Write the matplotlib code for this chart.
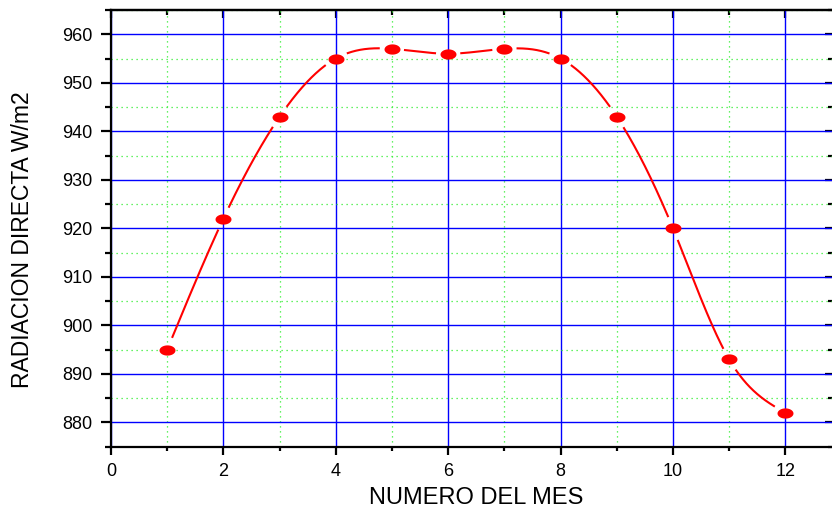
import numpy as np
import matplotlib.pyplot as plt
from matplotlib.path import Path
from matplotlib.ticker import MultipleLocator

plt.rcParams['font.family'] = ['Liberation Sans', 'DejaVu Sans']

# radiacion directa por mes
meses = [1, 2, 3, 4, 5, 6, 7, 8, 9, 10, 11, 12]
radiacion = [895, 922, 943, 955, 957, 956, 957, 955, 943, 920, 893, 882]

XMAX = 12.85
YMIN, YMAX = 875, 965


def spline_natural(x, y, xs):
    x = np.asarray(x, float)
    y = np.asarray(y, float)
    n = len(x)
    h = np.diff(x)
    A = np.zeros((n, n))
    b = np.zeros(n)
    A[0, 0] = A[-1, -1] = 1
    for i in range(1, n - 1):
        A[i, i - 1] = h[i - 1]
        A[i, i] = 2 * (h[i - 1] + h[i])
        A[i, i + 1] = h[i]
        b[i] = 6 * ((y[i + 1] - y[i]) / h[i] - (y[i] - y[i - 1]) / h[i - 1])
    M = np.linalg.solve(A, b)
    k = np.clip(np.searchsorted(x, xs) - 1, 0, n - 2)
    t0 = x[k + 1] - xs
    t1 = xs - x[k]
    hk = h[k]
    return (M[k] * t0**3 / (6 * hk) + M[k + 1] * t1**3 / (6 * hk)
            + (y[k] / hk - M[k] * hk / 6) * t0
            + (y[k + 1] / hk - M[k + 1] * hk / 6) * t1)


fig = plt.figure(figsize=(8.32, 5.11), dpi=100)
pos = [0.1334, 0.1258, 0.8680, 0.8546]
ax = fig.add_axes(pos)
ax.set_xlim(0, XMAX)
ax.set_ylim(YMIN, YMAX)

xs = np.linspace(1, 12, 2000)
ys = spline_natural(meses, radiacion, xs)

# cortar la curva alrededor de cada punto
px_x = pos[2] * 832 / XMAX
px_y = pos[3] * 511 / (YMAX - YMIN)
for mx, my in zip(meses, radiacion):
    d = np.hypot((xs - mx) * px_x, (ys - my) * px_y)
    ys[d < 13] = np.nan

ax.plot(xs, ys, color='red', lw=1.5, zorder=3)

# marcador eliptico
t = np.linspace(0, 2 * np.pi, 60)
elipse = Path(np.column_stack([np.cos(t), 0.64 * np.sin(t)]), closed=True)
ax.plot(meses, radiacion, ls='none', marker=elipse, ms=11.5,
        color='red', mec='red', mew=0, zorder=4, clip_on=False)

ax.xaxis.set_major_locator(MultipleLocator(2))
ax.xaxis.set_minor_locator(MultipleLocator(1))
ax.yaxis.set_major_locator(MultipleLocator(10))
ax.yaxis.set_minor_locator(MultipleLocator(5))

ax.grid(which='major', color='#0000ff', lw=1.0, ls='-')
ax.grid(which='minor', color='#33ee33', lw=0.9, ls=(0, (1, 3)))
ax.set_axisbelow(True)

ax.tick_params(which='both', direction='out', width=1.6, labelsize=13)
ax.tick_params(axis='y', which='major', length=7.5, pad=6)
ax.tick_params(axis='y', which='minor', length=4)
ax.tick_params(axis='x', which='major', length=5.5, pad=6)
ax.tick_params(axis='x', which='minor', length=3)
for s in ax.spines.values():
    s.set_linewidth(1.6)

# marcas interiores arriba y a la derecha
top = ax.secondary_xaxis('top')
top.xaxis.set_major_locator(MultipleLocator(2))
top.xaxis.set_minor_locator(MultipleLocator(1))
top.tick_params(which='both', direction='in', labeltop=False, width=1.6)
top.tick_params(which='major', length=6)
top.tick_params(which='minor', length=3.5)
top.spines['top'].set_linewidth(1.6)
der = ax.secondary_yaxis('right')
der.yaxis.set_major_locator(MultipleLocator(10))
der.yaxis.set_minor_locator(MultipleLocator(5))
der.tick_params(which='both', direction='in', labelright=False, width=1.6)
der.tick_params(which='major', length=6)
der.tick_params(which='minor', length=3.5)

ax.set_xlabel('NUMERO DEL MES', fontsize=17)
ax.xaxis.set_label_coords(0.506, -0.092)
ax.set_ylabel('RADIACION DIRECTA W/m2', fontsize=16.5)
ax.yaxis.set_label_coords(-0.106, 0.475)

fig.savefig('out.png', dpi=100)
